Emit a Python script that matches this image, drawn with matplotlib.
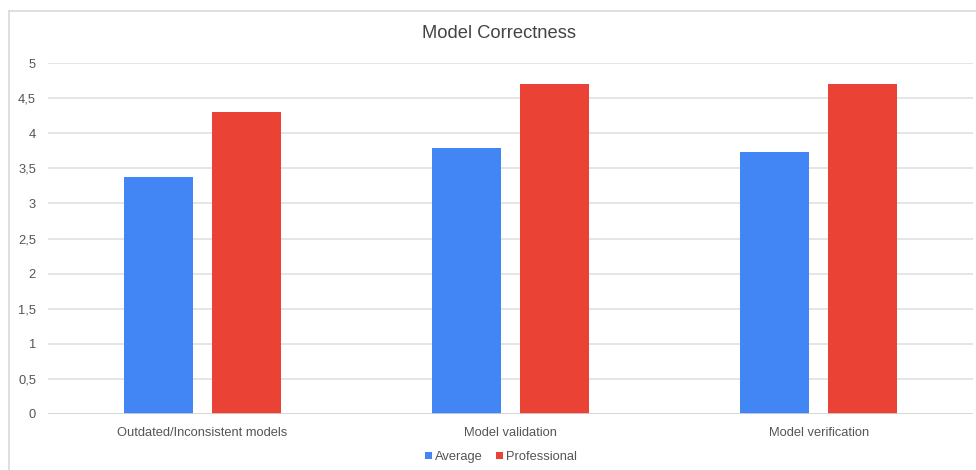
import matplotlib
matplotlib.use("Agg")
import matplotlib.pyplot as plt
from matplotlib.lines import Line2D
from matplotlib.patches import Patch
import numpy as np

categories = ["Outdated/Inconsistent models", "Model validation", "Model verification"]
average = [3.38, 3.79, 3.73]
professional = [4.3, 4.7, 4.7]
series_names = ["Average", "Professional"]
yticks = [0, 0.5, 1, 1.5, 2, 2.5, 3, 3.5, 4, 4.5, 5]
ytick_labels = [f"{v:g}".replace(".", ",") for v in yticks]

BLUE = "#4285F4"
RED = "#EA4335"
TEXT = "#555555"

plt.rcParams["font.family"] = ["Liberation Sans", "DejaVu Sans"]

W, H = 976, 470
fig = plt.figure(figsize=(W / 100, H / 100), dpi=100)
fig.patch.set_facecolor("white")

# plot area in pixel coordinates
left, right, top, bottom = 48, 973, 63, 414
ax = fig.add_axes([left / W, 1 - bottom / H, (right - left) / W, (bottom - top) / H])
ax.set_facecolor("white")

x = np.arange(len(categories))
bw = 0.224
off = 0.143
ax.bar(x - off, average, width=bw, color=BLUE, zorder=3)
ax.bar(x + off, professional, width=bw, color=RED, zorder=3)

ax.set_xlim(-0.5, len(categories) - 0.5)
ax.set_ylim(0, 5)
ax.set_yticks(yticks)
ax.set_yticklabels(ytick_labels)
ax.set_xticks(x)
ax.set_xticklabels(categories)
ax.tick_params(axis="both", length=0, colors=TEXT, labelsize=9.3)
ax.tick_params(axis="y", pad=8.6)
ax.tick_params(axis="x", pad=9)
ax.grid(axis="y", color="#e0e0e0", linewidth=1.2, zorder=0)
for s in ax.spines.values():
    s.set_visible(False)
ax.axhline(0, color="#d4d4d4", linewidth=1.2, zorder=4)

fig.text(499 / W, 1 - 34 / H, "Model Correctness", ha="center", va="center",
         fontsize=13.2, color="#444444")

# legend
handles = [Patch(facecolor=BLUE, edgecolor="none"), Patch(facecolor=RED, edgecolor="none")]
fig.legend(handles, series_names, loc="center", bbox_to_anchor=(501 / W, 1 - 457 / H),
           ncol=2, frameon=False, fontsize=9.3, handlelength=0.55, handleheight=0.55,
           handletextpad=0.25, columnspacing=1.0, labelcolor=TEXT)

# chart frame (left and top edges)
fig.add_artist(Line2D([9 / W, 9 / W], [0, 1 - 11 / H], transform=fig.transFigure,
                      color="#d9d9d9", linewidth=1.2))
fig.add_artist(Line2D([9 / W, 1], [1 - 11 / H, 1 - 11 / H], transform=fig.transFigure,
                      color="#d9d9d9", linewidth=1.2))

fig.savefig("out.png", dpi=100, facecolor="white")
